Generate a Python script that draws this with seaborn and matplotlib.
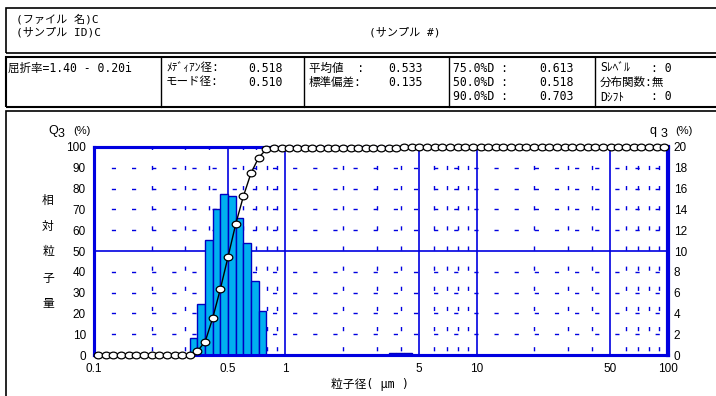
import numpy as np
import pandas as pd
import matplotlib
matplotlib.use("Agg")
import matplotlib.pyplot as plt
import seaborn as sns
from matplotlib.patches import Rectangle
from matplotlib.lines import Line2D
from matplotlib.path import Path
from matplotlib.transforms import Affine2D

# ---------------- data ----------------
# particle sizes (µm) of the measurement channels (read from the marker positions)
sizes = [0.1047, 0.1148, 0.1259, 0.1380, 0.1514, 0.1660, 0.1820, 0.1995, 0.2188, 0.2399,
         0.2630, 0.2884, 0.3162, 0.3467, 0.3802, 0.4169, 0.4571, 0.5012, 0.5495, 0.6026,
         0.6607, 0.7244, 0.7943, 0.8710, 0.9550, 1.047, 1.148, 1.259, 1.380, 1.514,
         1.660, 1.820, 1.995, 2.188, 2.399, 2.630, 2.884, 3.162, 3.467, 3.802,
         4.169, 4.571, 5.012, 5.495, 6.026, 6.607, 7.244, 7.943, 8.710, 9.550,
         10.47, 11.48, 12.59, 13.80, 15.14, 16.60, 18.20, 19.95, 21.88, 23.99,
         26.30, 28.84, 31.62, 34.67, 38.02, 41.69, 45.71, 50.12, 54.95, 60.26,
         66.07, 72.44, 79.43, 87.10, 95.50]
# cumulative distribution Q3 (%)
cum_q3 = [0, 0, 0, 0, 0, 0, 0, 0, 0, 0,
          0, 0, 0, 1.9, 6.4, 17.9, 31.9, 47.3, 63.0, 76.3,
          87.5, 94.9, 98.9, 99.4, 99.4, 99.4, 99.4, 99.4, 99.4, 99.4,
          99.4, 99.4, 99.4, 99.4, 99.4, 99.4, 99.4, 99.4, 99.4, 99.6,
          99.8, 100, 100, 100, 100, 100, 100, 100, 100, 100,
          100, 100, 100, 100, 100, 100, 100, 100, 100, 100,
          100, 100, 100, 100, 100, 100, 100, 100, 100, 100,
          100, 100, 100, 100, 100]
# frequency q3 (%) for the channels between sizes[12] and sizes[41]
bin_edges = sizes[12:42]
freq_q3 = [1.6, 4.9, 11.1, 14.0, 15.5, 15.3, 13.2, 10.8, 7.1, 4.2,
           0, 0, 0, 0, 0, 0, 0, 0, 0, 0,
           0, 0, 0, 0, 0, 0, 0.15, 0.2, 0.15]

x_ticks = [0.1, 0.5, 1, 5, 10, 50, 100]
x_tick_labels = ["0.1", "0.5", "1", "5", "10", "50", "100"]
x_dash = [0.2, 0.3, 0.4, 0.6, 0.7, 0.8, 0.9, 2, 3, 4, 6, 7, 8, 9,
          20, 30, 40, 60, 70, 80, 90]
left_ticks = list(range(0, 101, 10))
right_ticks = list(range(0, 21, 2))

info_left = ["屈折率=1.40 - 0.20i"]
median_mode = [("ﾒﾃﾞｨｱﾝ径:", "0.518"), ("モード径:", "0.510")]
mean_sd = [("平均値  :", "0.533"), ("標準偏差:", "0.135")]
pct_d = [("75.0%D :", "0.613"), ("50.0%D :", "0.518"), ("90.0%D :", "0.703")]

# ---------------- style ----------------
sns.set_theme(style="white")
plt.rcParams['font.family'] = ['Liberation Sans', 'Noto Sans CJK JP', 'DejaVu Sans']
TXT_FAMILY = ['DejaVu Sans Mono', 'Noto Sans CJK JP']
BLUE = "#0000E0"
FILL = "#00B0F0"

W, H = 716, 396
fig = plt.figure(figsize=(W / 100, H / 100), dpi=100)
fig.patch.set_facecolor("white")


def fx(x):
    return x / W


def fy(y):
    return 1 - y / H


def T(x, y, s, size=8.3, ha='left', family=TXT_FAMILY, **kw):
    fig.text(fx(x), fy(y), s, ha=ha, va='center', fontsize=size, color='black',
             family=family, **kw)


def box(x0, y0, x1, y1, lw=1.2):
    fig.add_artist(Rectangle((fx(x0), fy(y1)), fx(x1) - fx(x0), fy(y0) - fy(y1),
                             transform=fig.transFigure, fill=False, ec='black', lw=lw))


def vline(x, y0, y1, lw=1.0):
    fig.add_artist(Line2D([fx(x), fx(x)], [fy(y0), fy(y1)], transform=fig.transFigure,
                          color='black', lw=lw))


# frames
box(6, 8, 730, 53)
box(6, 57, 730, 107, lw=1.5)
box(6, 111, 730, 410)
for xs in (161, 304, 449, 595):
    vline(xs, 57, 107)

# header text
T(16, 19, "(ファイル 名)C", size=8)
T(16, 32, "(サンプル ID)C", size=8)
T(405, 32, "(サンプル #)", ha='center', size=8)

# info row
T(8, 68, info_left[0])
for i, (lab, val) in enumerate(median_mode):
    T(166, 68 + 14 * i, lab)
    T(283, 68 + 14 * i, val, ha='right')
for i, (lab, val) in enumerate(mean_sd):
    T(309, 68 + 14 * i, lab)
    T(423, 68 + 14 * i, val, ha='right')
for i, (lab, val) in enumerate(pct_d):
    T(453, 68 + 14.5 * i, lab)
    T(574, 68 + 14.5 * i, val, ha='right')
T(600, 68, "Sﾚﾍﾞﾙ")
T(651, 68, ": 0")
T(600, 82, "分布関数:無")
T(600, 97, "Dｼﾌﾄ")
T(651, 97, ": 0")

# ---------------- chart ----------------
ax_l, ax_r, ax_t, ax_b = 94.2, 668, 147, 355
ax = fig.add_axes([fx(ax_l), fy(ax_b), fx(ax_r) - fx(ax_l), (ax_b - ax_t) / H])
ax.set_facecolor("white")

df_bars = pd.DataFrame({
    "size": [np.sqrt(a * b) for a, b in zip(bin_edges[:-1], bin_edges[1:])],
    "q3": freq_q3,
})
sns.histplot(data=df_bars, x="size", weights="q3",
             bins=[float(v) for v in np.log10(bin_edges)],
             log_scale=True, color=FILL, edgecolor="#0000C0", linewidth=1.0,
             alpha=1, ax=ax, zorder=3)
ax.set_xlim(0.1, 100)
ax.set_ylim(0, 20)

# grid
for v in right_ticks[1:-1]:
    if v == 10:
        ax.axhline(v, color=BLUE, lw=1.2, zorder=1)
    else:
        ax.axhline(v, color=BLUE, lw=1.0, ls=(2, (3.0, 11.5)), zorder=1)
for v in x_ticks[1:-1]:
    ax.axvline(v, color=BLUE, lw=1.2, zorder=1)
for v in x_dash:
    ax.axvline(v, color=BLUE, lw=1.0, ls=(-3, (3.0, 11.5)), zorder=1)

ax.set_xticks(x_ticks)
ax.set_xticklabels(x_tick_labels)
ax.xaxis.set_minor_locator(matplotlib.ticker.NullLocator())
ax.set_xlabel("")
ax.set_ylabel("")
ax.grid(False)

ax2 = ax.twinx()
ax2.set_ylim(0, 100)
ax2.set_yticks(left_ticks)
ax2.set_yticklabels([str(v) for v in left_ticks])
ax2.grid(False)

# q3 scale on the right, Q3 scale on the left
ax.yaxis.tick_right()
ax.set_yticks(right_ticks)
ax.set_yticklabels([str(v) for v in right_ticks])
ax2.yaxis.tick_left()
ax.tick_params(axis='both', length=0, labelsize=8.5, colors='black')
ax.tick_params(axis='x', pad=6)
ax.tick_params(axis='y', pad=4, labelleft=False, labelright=True)
ax2.tick_params(axis='y', length=0, labelsize=8.5, colors='black', pad=6,
                labelleft=True, labelright=False)

circ = Path.unit_circle()
ell = Path(Affine2D().scale(1.0, 0.78).transform(circ.vertices), circ.codes)
df_cum = pd.DataFrame({"size": sizes, "Q3": cum_q3})
sns.lineplot(data=df_cum, x="size", y="Q3", ax=ax2, color="black", lw=1.0,
             marker=ell, markersize=6.2, markerfacecolor="white",
             markeredgecolor="black", markeredgewidth=0.9, clip_on=False, zorder=5)
ax2.set_xlim(0.1, 100)
ax2.set_ylabel("")
ax2.set_xlabel("")

for a in (ax, ax2):
    for s in a.spines.values():
        s.set_color(BLUE)
        s.set_linewidth(2.2)
        s.set_visible(True)
ax2.spines['right'].set_linewidth(3.0)

# axis titles
SANS = ['Liberation Sans', 'Noto Sans CJK JP']
T(48, 131, "Q", size=9, family=SANS)
T(58, 134, "3", size=9, family=SANS)
T(73, 131, "(%)", size=8, family=SANS)
T(650, 131, "q", size=9, family=SANS)
T(661, 134, "3", size=9, family=SANS)
T(675, 131, "(%)", size=8, family=SANS)
for i, ch in enumerate("相対粒子量"):
    T(48, 200 + 26 * i, ch, ha='center', size=8.5)
T(370, 384, "粒子径( μm )", ha='center', size=8.5)

fig.savefig("out.png", dpi=100)
